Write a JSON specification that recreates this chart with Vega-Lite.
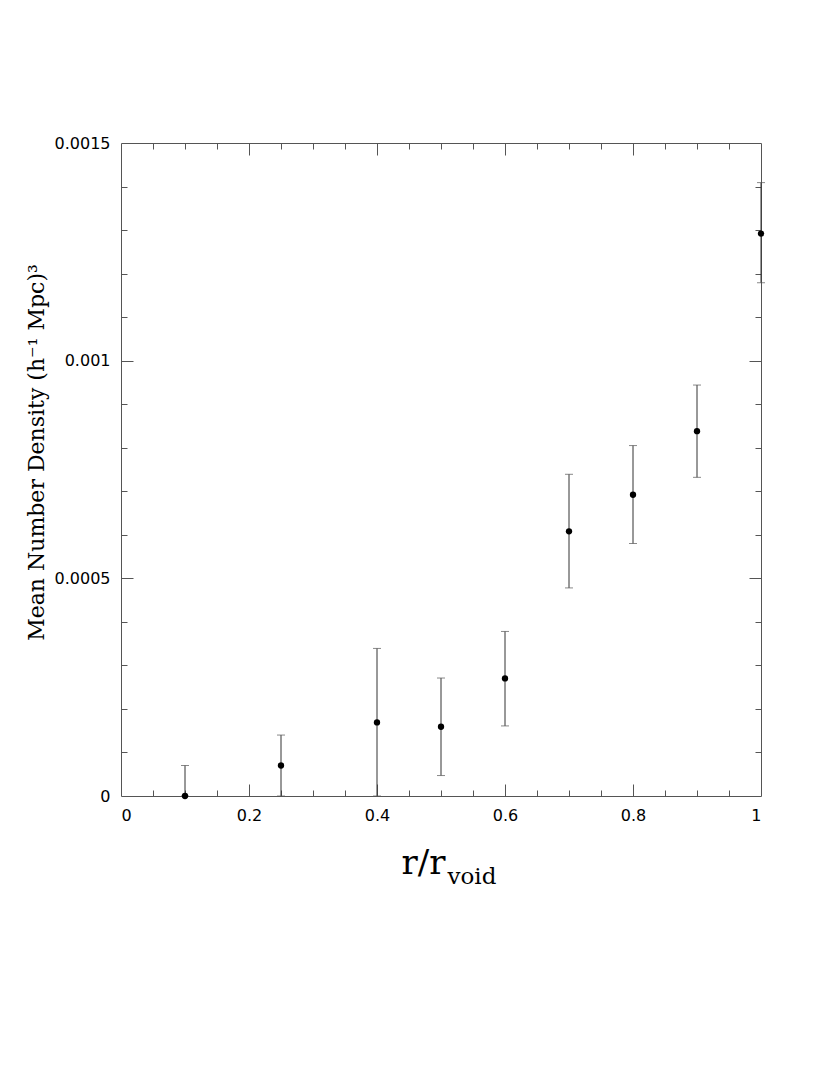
{
  "$schema": "https://vega.github.io/schema/vega-lite/v6.json",
  "width": 640,
  "height": 653,
  "autosize": "none",
  "padding": {"left": 121, "top": 143, "right": 69, "bottom": 279},
  "background": "white",
  "config": {
    "view": {"stroke": "#555", "strokeWidth": 1},
    "axis": {"domain": false, "grid": false, "labelFont": "DejaVu Sans", "labelFontSize": 16, "labelColor": "#000", "tickColor": "#555", "titleColor": "#000", "titleFontWeight": "normal"}
  },
  "data": {"values": [
    {"r": 0.1, "n": 0.0, "lo": 0.0, "hi": 0.00007},
    {"r": 0.25, "n": 0.00007, "lo": 0.0, "hi": 0.00014},
    {"r": 0.4, "n": 0.000169, "lo": 0.0, "hi": 0.000339},
    {"r": 0.5, "n": 0.000159, "lo": 0.000047, "hi": 0.000271},
    {"r": 0.6, "n": 0.00027, "lo": 0.000161, "hi": 0.000378},
    {"r": 0.7, "n": 0.000608, "lo": 0.000478, "hi": 0.000739},
    {"r": 0.8, "n": 0.000692, "lo": 0.00058, "hi": 0.000805},
    {"r": 0.9, "n": 0.000838, "lo": 0.000732, "hi": 0.000944},
    {"r": 1.0, "n": 0.001292, "lo": 0.001179, "hi": 0.001409}
  ]},
  "resolve": {"axis": {"x": "independent", "y": "independent"}},
  "layer": [
    {
      "mark": {"type": "rule", "color": "#333", "strokeWidth": 1, "clip": false},
      "encoding": {
        "x": {"field": "r", "type": "quantitative", "scale": {"domain": [0, 1], "nice": false, "zero": false}, "axis": null},
        "y": {"field": "lo", "type": "quantitative", "scale": {"domain": [0, 0.0015], "nice": false}, "axis": null},
        "y2": {"field": "hi"}
      }
    },
    {
      "mark": {"type": "tick", "orient": "horizontal", "color": "#555", "size": 8, "thickness": 1, "clip": false},
      "encoding": {
        "x": {"field": "r", "type": "quantitative", "axis": null},
        "y": {"field": "hi", "type": "quantitative", "axis": null}
      }
    },
    {
      "mark": {"type": "tick", "orient": "horizontal", "color": "#555", "size": 8, "thickness": 1, "clip": false},
      "encoding": {
        "x": {"field": "r", "type": "quantitative", "axis": null},
        "y": {"field": "lo", "type": "quantitative", "axis": null}
      }
    },
    {
      "mark": {"type": "circle", "color": "#000", "size": 40, "opacity": 1, "clip": false},
      "encoding": {
        "x": {"field": "r", "type": "quantitative", "axis": {"orient": "bottom", "values": [0, 0.2, 0.4, 0.6, 0.8, 1], "format": "~g", "ticks": false, "labelPadding": 11, "title": "r/r", "titleFont": "DejaVu Serif", "titleFontSize": 34, "titleX": 302, "titleY": 77, "titleAlign": "center", "titleBaseline": "alphabetic"}},
        "y": {"field": "n", "type": "quantitative", "axis": {"orient": "left", "values": [0, 0.0005, 0.001, 0.0015], "format": "~g", "ticks": false, "labelPadding": 11, "title": "Mean Number Density (h⁻¹ Mpc)³", "titleFont": "DejaVu Serif", "titleFontSize": 22, "titleX": -78, "titleY": 309, "titleAlign": "center", "titleBaseline": "alphabetic", "titleAngle": 270}}
      }
    },
    {
      "mark": {"type": "point", "opacity": 0},
      "encoding": {
        "x": {"field": "r", "type": "quantitative", "axis": {"orient": "bottom", "values": [0.05, 0.1, 0.15, 0.25, 0.3, 0.35, 0.45, 0.5, 0.55, 0.65, 0.7, 0.75, 0.85, 0.9, 0.95], "labels": false, "tickSize": -6, "title": null}},
        "y": {"field": "n", "type": "quantitative", "axis": {"orient": "left", "values": [0.0001, 0.0002, 0.0003, 0.0004, 0.0006, 0.0007, 0.0008, 0.0009, 0.0011, 0.0012, 0.0013, 0.0014], "labels": false, "tickSize": -6, "title": null}}
      }
    },
    {
      "mark": {"type": "point", "opacity": 0},
      "encoding": {
        "x": {"field": "r", "type": "quantitative", "axis": {"orient": "bottom", "values": [0.2, 0.4, 0.6, 0.8], "labels": false, "tickSize": -12, "title": null}},
        "y": {"field": "n", "type": "quantitative", "axis": {"orient": "left", "values": [0.0005, 0.001], "labels": false, "tickSize": -12, "title": null}}
      }
    },
    {
      "mark": {"type": "point", "opacity": 0},
      "encoding": {
        "x": {"field": "r", "type": "quantitative", "axis": {"orient": "top", "values": [0.05, 0.1, 0.15, 0.25, 0.3, 0.35, 0.45, 0.5, 0.55, 0.65, 0.7, 0.75, 0.85, 0.9, 0.95], "labels": false, "tickSize": -6, "title": null}},
        "y": {"field": "n", "type": "quantitative", "axis": {"orient": "right", "values": [0.0001, 0.0002, 0.0003, 0.0004, 0.0006, 0.0007, 0.0008, 0.0009, 0.0011, 0.0012, 0.0013, 0.0014], "labels": false, "tickSize": -6, "title": null}}
      }
    },
    {
      "mark": {"type": "point", "opacity": 0},
      "encoding": {
        "x": {"field": "r", "type": "quantitative", "axis": {"orient": "top", "values": [0.2, 0.4, 0.6, 0.8], "labels": false, "tickSize": -12, "title": null}},
        "y": {"field": "n", "type": "quantitative", "axis": {"orient": "right", "values": [0.0005, 0.001], "labels": false, "tickSize": -12, "title": null}}
      }
    },
    {
      "mark": {"type": "point", "opacity": 0},
      "encoding": {
        "x": {"field": "r", "type": "quantitative", "axis": {"orient": "bottom", "values": [], "labels": false, "ticks": false, "title": "void", "titleFont": "DejaVu Serif", "titleFontSize": 23, "titleX": 326, "titleY": 87, "titleAlign": "left", "titleBaseline": "alphabetic"}},
        "y": {"field": "n", "type": "quantitative", "axis": null}
      }
    }
  ]
}
